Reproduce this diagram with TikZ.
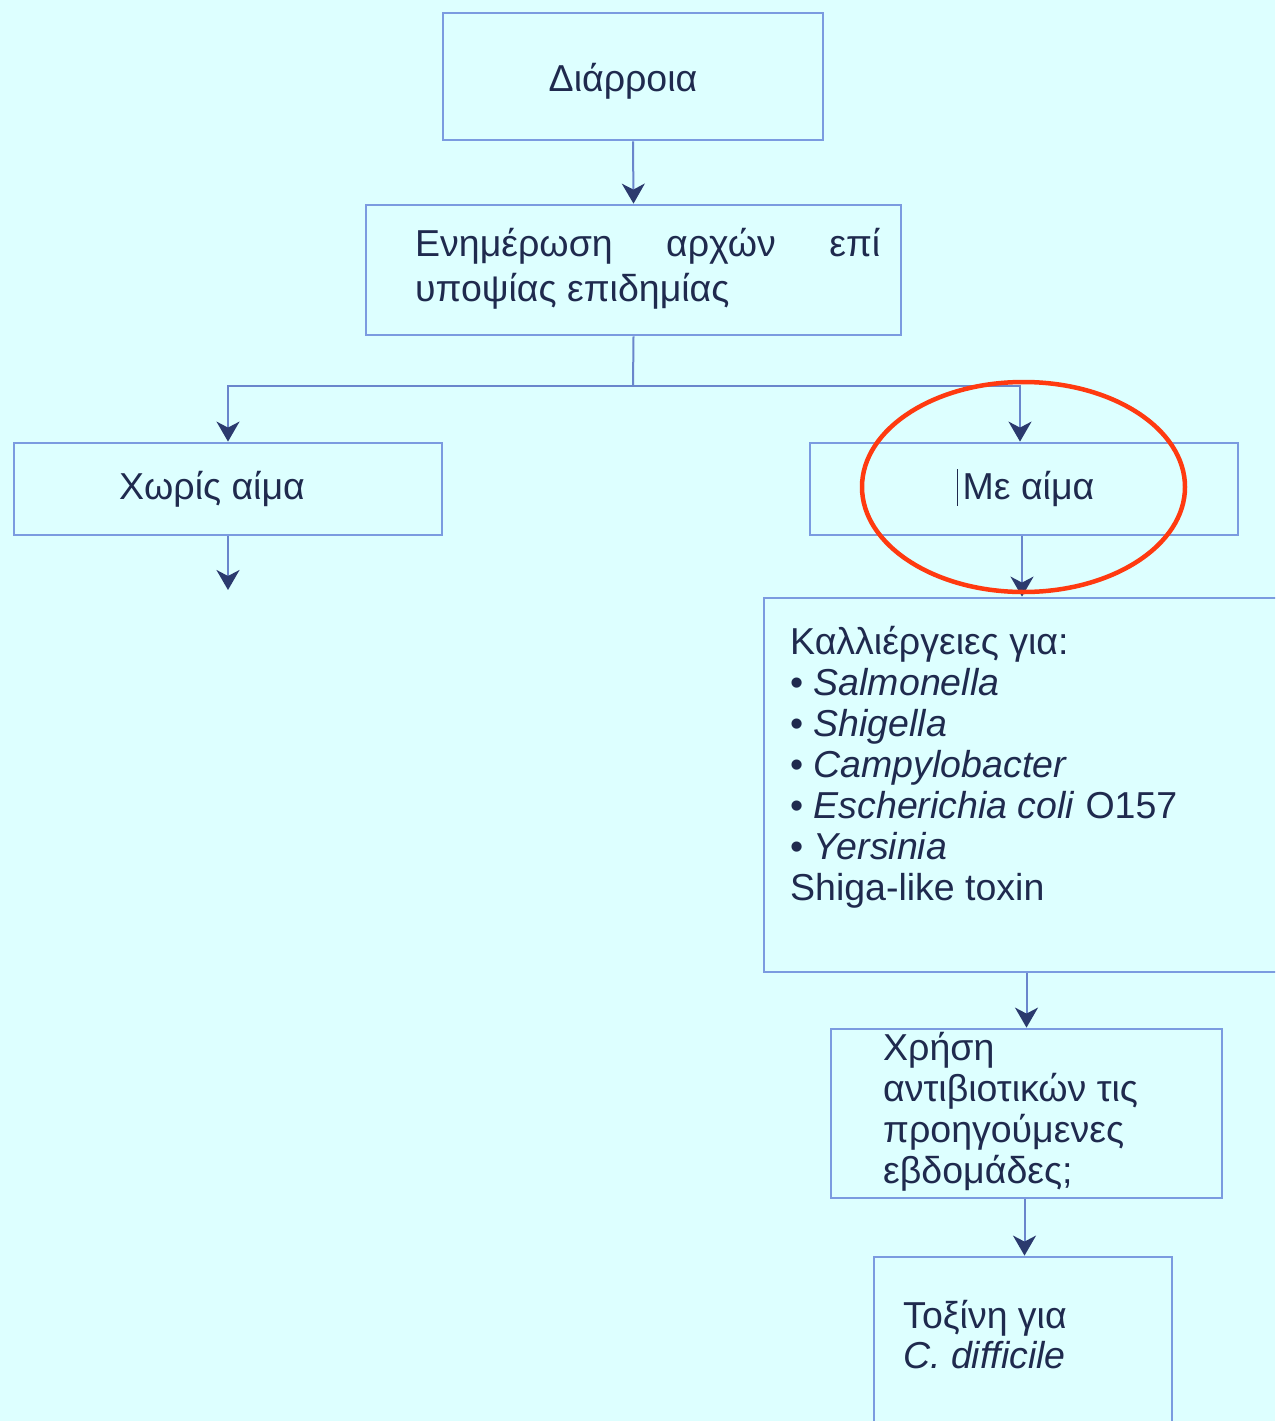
\documentclass[tikz,border=0pt]{standalone}
\usepackage{fontspec}
\setmainfont{Liberation Sans}
\usetikzlibrary{arrows.meta,calc,shapes.geometric}
\definecolor{bg}{HTML}{DDFFFF}
\definecolor{boxc}{HTML}{7B9BE0}
\definecolor{linec}{HTML}{6A86CC}
\definecolor{tipc}{HTML}{2B3A6E}
\definecolor{txtc}{HTML}{1F2A4E}
\definecolor{redc}{HTML}{FF3A10}
\begin{document}
\begin{tikzpicture}[x=1pt,y=-1pt,
  box/.style={draw=boxc,line width=2.8pt,rectangle,inner sep=0pt},
  lbl/.style={text=txtc,font=\fontsize{37.5}{41}\selectfont,inner sep=0pt},
  conn/.style={draw=linec,line width=2pt},
  arr/.style={conn,-{Stealth[length=20pt,width=23pt,inset=6pt,color=tipc]}}]
\fill[bg] (0,0) rectangle (1275,1421);
\useasboundingbox (0,0) rectangle (1275,1421);
\clip (0,0) rectangle (1275,1421);
% boxes
\node[box,minimum width=380pt,minimum height=127pt] (b1) at (633,76.5) {};
\node[box,minimum width=535pt,minimum height=130pt] (b2) at (633.5,270) {};
\node[box,minimum width=428pt,minimum height=92pt] (b3) at (228,489) {};
\node[box,minimum width=428pt,minimum height=92pt] (b4) at (1024,489) {};
\node[box,minimum width=526pt,minimum height=374pt] (b5) at (1027,785) {};
\node[box,minimum width=391pt,minimum height=169pt] (b6) at (1026.5,1113.5) {};
\node[box,minimum width=298pt,minimum height=183pt] (b7) at (1023,1348.5) {};
% texts (multi-line nodes: base = baseline of last line)
\node[lbl,anchor=base] (t1) at (623,91) {Διάρροια};
\node[lbl,anchor=base west,align=left,font=\fontsize{37.5}{45}\selectfont] (t2) at (415,301)
  {\makebox[465pt][s]{Ενημέρωση\hfill αρχών\hfill επί}\\υποψίας επιδημίας};
\node[lbl,anchor=base] (t3) at (212,499) {Χωρίς αίμα};
\node[lbl,anchor=base] (t4) at (1028.5,499) {Με αίμα};
\draw[txtc,line width=1.5pt] ($(t4.base west)+(-5,-30)$) coordinate (cur1) -- ($(t4.base west)+(-5,7)$) coordinate (cur2);
\node[lbl,anchor=base west,align=left] (t5) at (790,900)
  {Καλλιέργειες για:\\
   • \textit{Salmonella}\\
   • \textit{Shigella}\\
   • \textit{Campylobacter}\\
   • \textit{Escherichia coli} O157\\
   • \textit{Yersinia}\\
   Shiga-like toxin};
\node[lbl,anchor=base west,align=left,font=\fontsize{37.5}{40.7}\selectfont] (t6) at (883,1183)
  {Χρήση\\αντιβιοτικών τις\\προηγούμενες\\εβδομάδες;};
\node[lbl,anchor=base west,align=left,font=\fontsize{37.5}{40}\selectfont] (t7) at (903,1368)
  {Τοξίνη για\\\textit{C. difficile}};
% connectors
\coordinate (junc) at (633,386);
\coordinate (end3) at (228,590);
\draw[arr] (b1.south) -- (b2.north);
\draw[conn] (b2.south) -- (junc);
\draw[arr] (junc) -| (b3.north);
\draw[arr] (junc) -| ([xshift=-4pt]b4.north);
\draw[arr] (b3.south) -- (end3);
\draw[arr] ([xshift=-2pt]b4.south) -- ([xshift=-2pt]b4.south |- b5.north);
\draw[arr] (b6.north |- b5.south) -- (b6.north);
\draw[arr] ([xshift=-2pt]b6.south) -- ([xshift=-2pt]b6.south |- b7.north);
% highlight
\node[draw=redc,line width=4.5pt,ellipse,minimum width=323pt,minimum height=210pt,inner sep=0pt] (hl) at (1023.5,487) {};
\end{tikzpicture}
\end{document}
